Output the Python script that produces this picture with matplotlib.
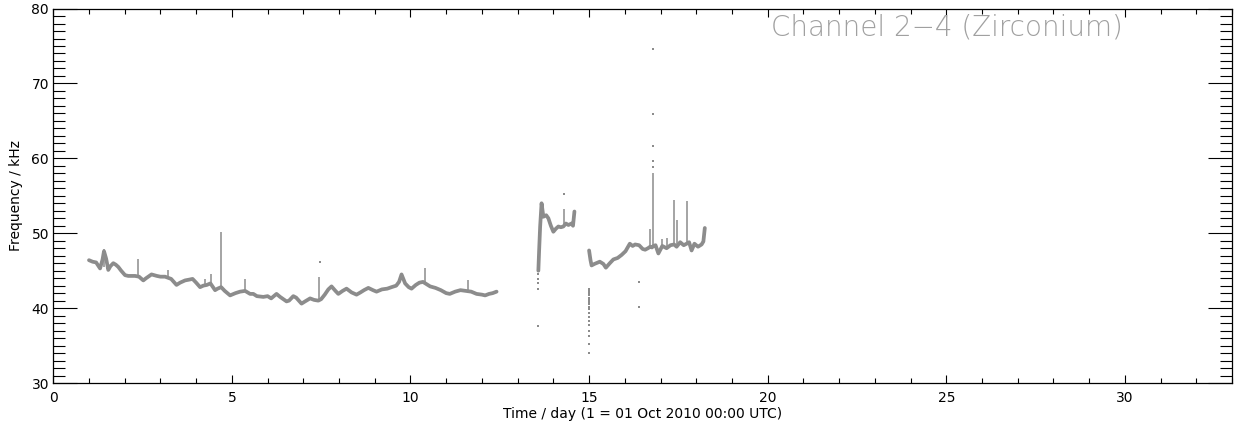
import matplotlib
matplotlib.use('Agg')
import matplotlib.pyplot as plt
from matplotlib.ticker import MultipleLocator

# main trace, first block (day 1 - 12.4)
seg1_x = [1.0, 1.1, 1.2, 1.31, 1.38, 1.42, 1.48, 1.54, 1.6, 1.68, 1.75, 1.82, 1.9, 2.01,
          2.1, 2.2, 2.29, 2.4, 2.52, 2.6, 2.75, 2.9, 3.0, 3.13, 3.3, 3.45, 3.55, 3.69,
          3.8, 3.9, 4.0, 4.11, 4.2, 4.3, 4.4, 4.53, 4.6, 4.7, 4.8, 4.95, 5.1, 5.23,
          5.37, 5.51, 5.6, 5.7, 5.88, 6.0, 6.1, 6.25, 6.35, 6.53, 6.6, 6.72, 6.8,
          6.95, 7.05, 7.19, 7.3, 7.42, 7.5, 7.6, 7.7, 7.79, 7.9, 7.98, 8.1, 8.21,
          8.35, 8.49, 8.6, 8.7, 8.82, 8.95, 9.05, 9.2, 9.35, 9.47, 9.6, 9.68, 9.75,
          9.85, 9.95, 10.03, 10.15, 10.25, 10.35, 10.45, 10.55, 10.7, 10.85, 11.0,
          11.1, 11.25, 11.4, 11.55, 11.7, 11.85, 12.0, 12.09, 12.2, 12.3, 12.41]
seg1_y = [46.4, 46.2, 46.1, 45.3, 46.5, 47.6, 46.6, 45.1, 45.6, 46.0, 45.8, 45.5, 45.0, 44.4,
          44.3, 44.3, 44.3, 44.2, 43.7, 44.0, 44.5, 44.3, 44.2, 44.2, 43.9, 43.1, 43.4, 43.7,
          43.8, 43.9, 43.4, 42.8, 43.0, 43.1, 43.3, 42.4, 42.6, 42.8, 42.3, 41.7, 42.0, 42.2,
          42.3, 41.9, 41.9, 41.6, 41.5, 41.6, 41.3, 41.9, 41.5, 40.9, 41.0, 41.6, 41.4,
          40.6, 40.9, 41.3, 41.1, 41.0, 41.2, 41.8, 42.5, 42.9, 42.3, 41.9, 42.3, 42.6,
          42.1, 41.8, 42.1, 42.4, 42.7, 42.4, 42.2, 42.5, 42.6, 42.8, 43.0, 43.5, 44.5,
          43.3, 42.8, 42.6, 43.1, 43.4, 43.5, 43.2, 42.9, 42.7, 42.4, 42.0,
          41.9, 42.2, 42.4, 42.3, 42.2, 41.9, 41.8, 41.7, 41.9, 42.0, 42.2]

# second block (day 13.6 - 14.6)
seg2_x = [13.58, 13.6, 13.63, 13.67, 13.72, 13.8, 13.86, 13.93, 14.0, 14.07, 14.14,
          14.21, 14.28, 14.35, 14.42, 14.51, 14.55, 14.59]
seg2_y = [45.0, 47.5, 50.9, 54.0, 52.2, 52.4, 52.0, 51.0, 50.2, 50.6, 50.9,
          50.8, 50.9, 51.3, 51.1, 51.3, 51.0, 52.9]

# third block (day 15 - 18.3)
seg3_x = [15.0, 15.04, 15.07, 15.15, 15.3, 15.4, 15.47, 15.58, 15.68, 15.8, 15.91, 16.02,
          16.14, 16.22, 16.29, 16.4, 16.5, 16.57, 16.65, 16.71, 16.76, 16.8, 16.86, 16.94,
          17.05, 17.17, 17.28, 17.38, 17.45, 17.55, 17.65, 17.73, 17.8, 17.87, 17.95,
          18.05, 18.15, 18.2, 18.24]
seg3_y = [47.7, 46.4, 45.7, 45.9, 46.2, 45.9, 45.4, 46.0, 46.5, 46.7, 47.1, 47.6,
          48.6, 48.3, 48.5, 48.4, 47.9, 47.8, 48.0, 48.2, 48.1, 48.3, 48.4, 47.3,
          48.3, 48.0, 48.4, 48.5, 48.2, 48.8, 48.4, 48.6, 48.8, 47.7, 48.6,
          48.2, 48.5, 48.9, 50.7]

# short spikes: position, base, top
spike_x = [1.42, 2.36, 3.2, 4.25, 4.41, 4.7, 5.37, 7.44, 10.4, 11.6,
           14.29, 16.7, 16.8, 17.03, 17.17, 17.38, 17.45, 17.73]
spike_lo = [45.5, 44.3, 44.1, 43.0, 43.2, 42.8, 42.3, 41.0, 43.4, 42.3,
            51.0, 48.0, 48.3, 48.0, 48.0, 48.5, 48.3, 48.6]
spike_hi = [47.9, 46.5, 45.1, 43.9, 44.6, 50.2, 43.9, 44.2, 45.3, 43.7,
            53.3, 50.5, 58.0, 49.2, 49.4, 54.5, 51.8, 54.3]

# single stray samples
stray_x = [7.48, 13.58, 13.58, 13.58, 13.58, 13.57, 14.29,
           15.0, 15.0, 15.0, 15.0, 15.0, 15.0, 15.0, 15.0, 15.0, 15.0, 15.0, 15.0,
           15.0, 15.0, 15.0, 15.0, 15.0, 15.0,
           16.41, 16.41, 16.8, 16.8, 16.8, 16.8, 16.8]
stray_y = [46.1, 44.6, 43.9, 43.3, 42.6, 37.6, 55.2,
           42.6, 42.3, 42.0, 41.7, 41.4, 41.1, 40.8, 40.5, 40.2, 39.9, 39.3, 38.8,
           38.3, 37.7, 37.0, 36.3, 35.2, 34.0,
           43.5, 40.1, 74.6, 65.9, 61.7, 59.7, 58.8]

dot_col = '#8c8c8c'

fig = plt.figure(figsize=(12.36, 4.28), dpi=100)
ax = fig.add_axes([0.0431, 0.1051, 0.9537, 0.8749])

for xs, ys in [(seg1_x, seg1_y), (seg2_x, seg2_y), (seg3_x, seg3_y)]:
    ax.plot(xs, ys, color=dot_col, lw=2.7, solid_joinstyle='round', solid_capstyle='round')
ax.vlines(spike_x, spike_lo, spike_hi, color=dot_col, lw=1.1)
ax.plot(stray_x, stray_y, 's', color=dot_col, ms=1.9, mew=0, linestyle='none')

ax.set_xlim(0, 33)
ax.set_ylim(30, 80)
ax.xaxis.set_major_locator(MultipleLocator(5))
ax.xaxis.set_minor_locator(MultipleLocator(1))
ax.yaxis.set_major_locator(MultipleLocator(10))
ax.yaxis.set_minor_locator(MultipleLocator(1))

ax.tick_params(axis='x', which='both', direction='in', top=True, bottom=True,
               labelsize=10, pad=6, width=0.8)
ax.tick_params(axis='x', which='major', length=6)
ax.tick_params(axis='x', which='minor', length=3.5)
ax.tick_params(axis='y', which='both', direction='in', left=True, right=True,
               labelsize=10, pad=3, width=0.8)
ax.tick_params(axis='y', which='major', length=17)
ax.tick_params(axis='y', which='minor', length=8.5)
for sp in ax.spines.values():
    sp.set_linewidth(0.9)

ax.set_xlabel('Time / day (1 = 01 Oct 2010 00:00 UTC)', fontsize=10, labelpad=1)
ax.set_ylabel('Frequency / kHz', fontsize=10, labelpad=6)

# label in the corner, thin grey like the IDL original
ax.text(0.907, 0.929, 'Channel 2\u22124 (Zirconium)', transform=ax.transAxes,
        ha='right', va='baseline', fontsize=20, color='#a0a0a0',
        family='DejaVu Sans', fontweight='light')

fig.savefig('out.png', dpi=100)
